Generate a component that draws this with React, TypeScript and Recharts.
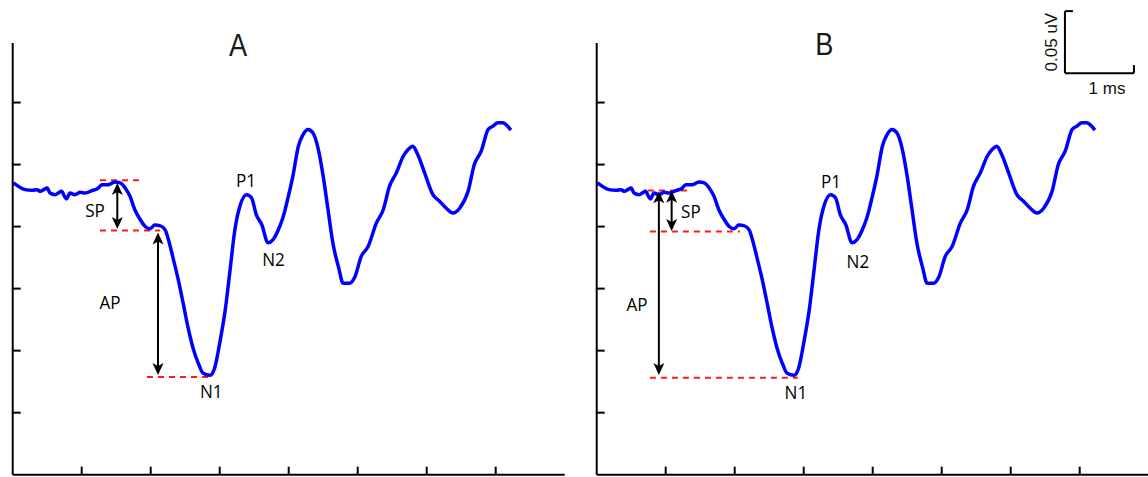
import { ComposedChart, Line, ReferenceDot, ReferenceLine, XAxis, YAxis } from "recharts";

// waveform (time in ms, amplitude in uV); panel B shows the same trace
const TIME_MS = [
  0.01, 0.18, 0.28, 0.35, 0.4, 0.45, 0.5, 0.54, 0.62, 0.66, 0.71, 0.75, 0.78, 0.83, 0.9, 0.98,
  1.05, 1.15, 1.24, 1.29, 1.39, 1.48, 1.56, 1.63, 1.7, 1.77, 1.85, 1.92, 1.99, 2.06, 2.14, 2.21,
  2.25, 2.32, 2.4, 2.47, 2.54, 2.61, 2.69, 2.76, 2.86, 2.93, 3.0, 3.08, 3.15, 3.22, 3.29, 3.39,
  3.46, 3.53, 3.61, 3.7, 3.77, 3.85, 3.92, 3.99, 4.06, 4.14, 4.21, 4.28, 4.35, 4.43, 4.5, 4.57,
  4.64, 4.72, 4.79, 4.88, 4.96, 5.05, 5.15, 5.27, 5.37, 5.46, 5.56, 5.66, 5.73, 5.8, 5.87, 5.97,
  6.09, 6.19, 6.28, 6.38, 6.48, 6.6, 6.69, 6.79, 6.89, 6.96, 7.03, 7.1, 7.22,
];
const AMP_UV = [
  0.2352, 0.2298, 0.2292, 0.2298, 0.2284, 0.2298, 0.2311, 0.2271, 0.2257, 0.2271, 0.2284, 0.2244,
  0.2223, 0.2271, 0.2257, 0.2276, 0.2271, 0.229, 0.2311, 0.2338, 0.2338, 0.236, 0.2352, 0.2311,
  0.2244, 0.2136, 0.2055, 0.2001, 0.1982, 0.2012, 0.2006, 0.1974, 0.1909, 0.1756, 0.157, 0.1383,
  0.1189, 0.1028, 0.0898, 0.0817, 0.0801, 0.0866, 0.106, 0.1327, 0.165, 0.1974, 0.216, 0.2257,
  0.2233, 0.2096, 0.2015, 0.1869, 0.1893, 0.1974, 0.2079, 0.2233, 0.2405, 0.2648, 0.2743, 0.2783,
  0.2756, 0.2621, 0.2405, 0.2136, 0.1869, 0.1677, 0.1543, 0.1543, 0.1596, 0.1758, 0.1839, 0.2028,
  0.2136, 0.2324, 0.2433, 0.2567, 0.2621, 0.2648, 0.2581, 0.2433, 0.2257, 0.2203, 0.215, 0.2109,
  0.215, 0.2284, 0.25, 0.2608, 0.2783, 0.281, 0.2837, 0.2837, 0.2778,
];
const X_TICKS = [1, 2, 3, 4, 5, 6, 7];
const Y_TICKS = [0.05, 0.1, 0.15, 0.2, 0.25, 0.3];

type Dash = { x1: number; x2: number; y: number };
type Arrow = { x: number; y1: number; y2: number };
type Tag = { text: string; x: number; y: number };

const A_DASHES: Dash[] = [
  { x1: 1.265, x2: 1.89, y: 0.2374 },
  { x1: 1.265, x2: 2.135, y: 0.1968 },
  { x1: 1.946, x2: 2.903, y: 0.0788 },
];
const A_ARROWS: Arrow[] = [
  { x: 1.516, y1: 0.2352, y2: 0.1981 },
  { x: 2.106, y1: 0.1952, y2: 0.0804 },
];
const A_TAGS: Tag[] = [
  { text: "SP", x: 1.193, y: 0.2135 },
  { text: "AP", x: 1.41, y: 0.1393 },
  { text: "N1", x: 2.877, y: 0.0675 },
  { text: "P1", x: 3.381, y: 0.2377 },
  { text: "N2", x: 3.78, y: 0.174 },
];

const B_DASHES: Dash[] = [
  { x1: 0.742, x2: 1.351, y: 0.229 },
  { x1: 0.771, x2: 2.075, y: 0.196 },
  { x1: 0.771, x2: 2.916, y: 0.0782 },
];
const B_ARROWS: Arrow[] = [
  { x: 1.086, y1: 0.2288, y2: 0.1965 },
  { x: 0.901, y1: 0.2284, y2: 0.0804 },
];
const B_TAGS: Tag[] = [
  { text: "SP", x: 1.365, y: 0.2127 },
  { text: "AP", x: 0.583, y: 0.1376 },
  { text: "N1", x: 2.887, y: 0.0667 },
  { text: "P1", x: 3.395, y: 0.2369 },
  { text: "N2", x: 3.786, y: 0.1724 },
];

// scale bar: 1 ms by 0.05 uV
const BAR_T = [6.786, 7.786];
const BAR_V = [0.3237, 0.3737];

const WAVE = TIME_MS.map((t, i) => ({ t, v: AMP_UV[i] }));

const RED = "#ff1a1a";
const BLUE = "#0000ff";
const AXIS = { stroke: "#000", strokeWidth: 2 };
const noLabel = () => "";

const arrowShape = (p: any) => {
  const { x1, y1, y2 } = p;
  const top = Math.min(y1, y2);
  const bot = Math.max(y1, y2);
  return (
    <g>
      <line x1={x1} y1={top + 6} x2={x1} y2={bot - 6} stroke="#000" strokeWidth={2} />
      <polygon points={`${x1},${top} ${x1 - 5.5},${top + 12} ${x1},${top + 9} ${x1 + 5.5},${top + 12}`} fill="#000" />
      <polygon points={`${x1},${bot} ${x1 - 5.5},${bot - 12} ${x1},${bot - 9} ${x1 + 5.5},${bot - 12}`} fill="#000" />
    </g>
  );
};

const textShape =
  (text: string, size: number, family: string, color: string, sx = 1, rotate = 0) =>
  (p: any) => (
    <text
      transform={`translate(${p.cx} ${p.cy}) rotate(${rotate}) scale(${sx} 1)`}
      textAnchor="middle"
      dominantBaseline="central"
      fontSize={size}
      fontFamily={family}
      fill={color}
    >
      {text}
    </text>
  );

const TAG_FONT = "'Open Sans', sans-serif";
const BAR_FONT = "'Liberation Sans', Arial, sans-serif";

interface PanelProps {
  left: number;
  width: number;
  title: string;
  titleAt: [number, number];
  dashes: Dash[];
  arrows: Arrow[];
  tags: Tag[];
  scaleBar?: boolean;
}

function Panel({ left, width, title, titleAt, dashes, arrows, tags, scaleBar }: PanelProps) {
  return (
    <div style={{ position: "absolute", left, top: 0 }}>
      <ComposedChart
        width={width}
        height={477}
        data={WAVE}
        margin={{ top: 43, right: width - 12.7 - 552, bottom: 2.3, left: 12.7 }}
      >
        <XAxis
          type="number"
          dataKey="t"
          domain={[0, 8]}
          ticks={X_TICKS}
          mirror
          tickFormatter={noLabel}
          tickSize={8}
          axisLine={AXIS}
          tickLine={AXIS}
        />
        <YAxis
          type="number"
          domain={[0, 0.348]}
          ticks={Y_TICKS}
          mirror
          tickFormatter={noLabel}
          tickSize={8}
          axisLine={AXIS}
          tickLine={AXIS}
        />
        {dashes.map((d, i) => (
          <ReferenceLine
            key={`d${i}`}
            segment={[
              { x: d.x1, y: d.y },
              { x: d.x2, y: d.y },
            ]}
            stroke={RED}
            strokeWidth={2}
            strokeDasharray="6 5"
            ifOverflow="visible"
          />
        ))}
        <Line
          dataKey="v"
          type="monotone"
          stroke={BLUE}
          strokeWidth={3.5}
          dot={false}
          isAnimationActive={false}
        />
        {arrows.map((a, i) => (
          <ReferenceLine
            key={`a${i}`}
            segment={[
              { x: a.x, y: a.y1 },
              { x: a.x, y: a.y2 },
            ]}
            shape={arrowShape}
            ifOverflow="visible"
          />
        ))}
        {tags.map((g) => (
          <ReferenceDot
            key={g.text}
            x={g.x}
            y={g.y}
            r={0}
            ifOverflow="visible"
            shape={textShape(g.text, 18, TAG_FONT, "#000", 0.95)}
          />
        ))}
        <ReferenceDot
          x={titleAt[0]}
          y={titleAt[1]}
          r={0}
          ifOverflow="visible"
          shape={textShape(title, 32, BAR_FONT, "#1a1a1a", 0.85)}
        />
        {scaleBar && (
          <>
            <ReferenceLine
              segment={[
                { x: BAR_T[0], y: BAR_V[0] },
                { x: BAR_T[0], y: BAR_V[1] },
              ]}
              stroke="#000"
              strokeWidth={2}
              ifOverflow="visible"
            />
            <ReferenceLine
              segment={[
                { x: BAR_T[0], y: BAR_V[0] },
                { x: BAR_T[1], y: BAR_V[0] },
              ]}
              stroke="#000"
              strokeWidth={2}
              ifOverflow="visible"
            />
            <ReferenceLine
              segment={[
                { x: BAR_T[0], y: BAR_V[1] },
                { x: BAR_T[0] + 0.116, y: BAR_V[1] },
              ]}
              stroke="#000"
              strokeWidth={2}
              ifOverflow="visible"
            />
            <ReferenceLine
              segment={[
                { x: BAR_T[1], y: BAR_V[0] },
                { x: BAR_T[1], y: BAR_V[0] + 0.0065 },
              ]}
              stroke="#000"
              strokeWidth={2}
              ifOverflow="visible"
            />
            <ReferenceDot
              x={(BAR_T[0] + BAR_T[1]) / 2 + 0.11}
              y={BAR_V[0] - 0.0126}
              r={0}
              ifOverflow="visible"
              shape={textShape("1 ms", 17, BAR_FONT, "#111")}
            />
            <ReferenceDot
              x={BAR_T[0] - 0.19}
              y={(BAR_V[0] + BAR_V[1]) / 2}
              r={0}
              ifOverflow="visible"
              shape={textShape("0.05 uV", 17, BAR_FONT, "#111", 1, -90)}
            />
          </>
        )}
      </ComposedChart>
    </div>
  );
}

export default function App() {
  return (
    <div
      style={{
        position: "absolute",
        left: 0,
        top: 0,
        width: 1148,
        height: 477,
        overflow: "hidden",
        background: "#fff",
      }}
    >
      <Panel
        left={0}
        width={585}
        title="A"
        titleAt={[3.265, 0.3465]}
        dashes={A_DASHES}
        arrows={A_ARROWS}
        tags={A_TAGS}
      />
      <Panel
        left={584.1}
        width={565}
        title="B"
        titleAt={[3.3, 0.3473]}
        dashes={B_DASHES}
        arrows={B_ARROWS}
        tags={B_TAGS}
        scaleBar
      />
    </div>
  );
}
